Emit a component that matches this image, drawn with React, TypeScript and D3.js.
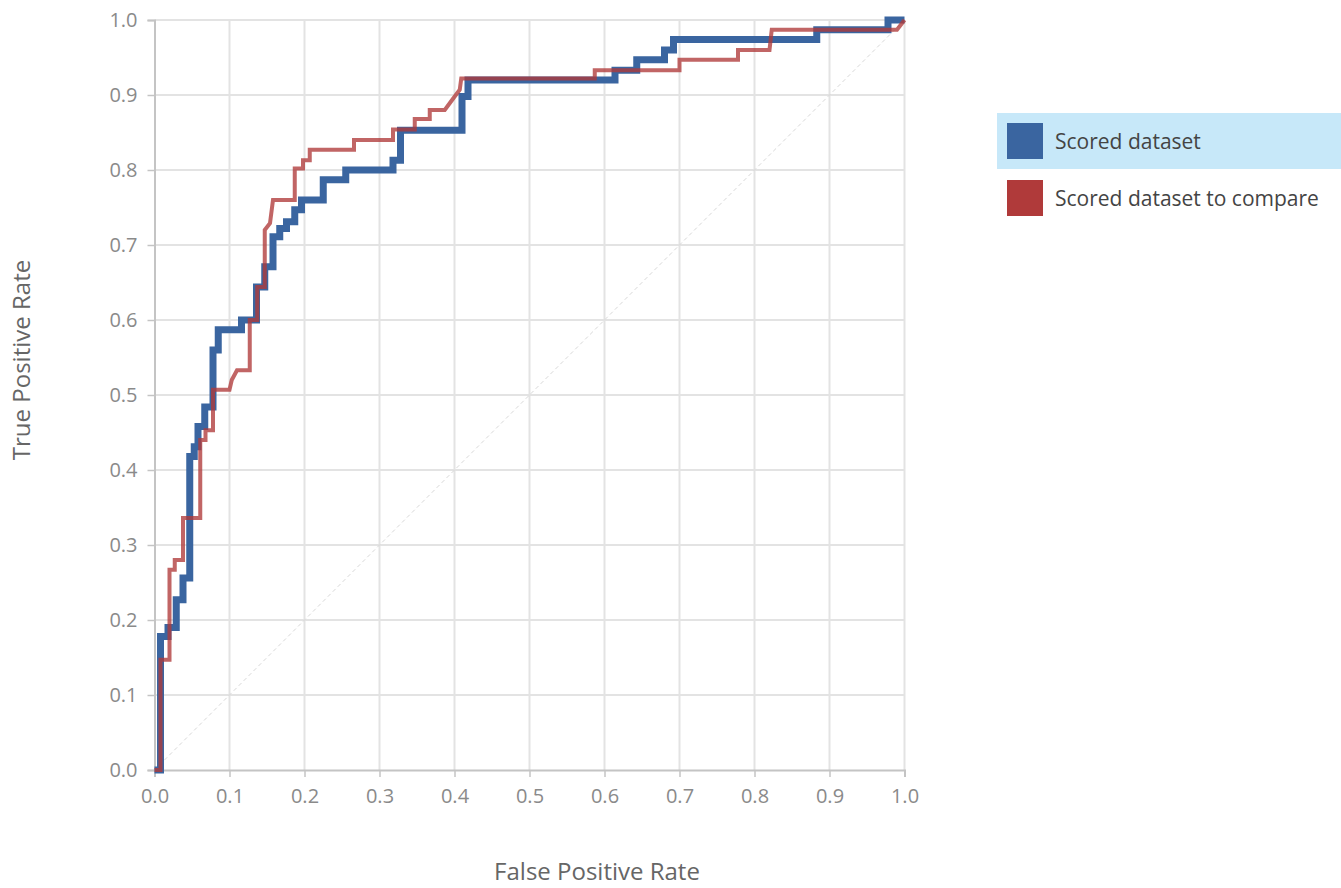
import * as d3 from "d3";
import { useEffect, useRef } from "react";

// ROC curve points as [false positive rate, true positive rate]
const scoredFpr = [
  0, 0.008, 0.008, 0.018, 0.018, 0.029, 0.029, 0.038, 0.038, 0.047, 0.047, 0.053, 0.053,
  0.058, 0.058, 0.067, 0.067, 0.078, 0.078, 0.085, 0.085, 0.116, 0.116, 0.136, 0.136,
  0.147, 0.147, 0.158, 0.158, 0.167, 0.167, 0.176, 0.176, 0.187, 0.187, 0.196, 0.196,
  0.225, 0.225, 0.255, 0.255, 0.318, 0.318, 0.328, 0.328, 0.41, 0.41, 0.418, 0.418,
  0.614, 0.614, 0.643, 0.643, 0.68, 0.68, 0.692, 0.692, 0.883, 0.883, 0.978, 0.978, 1,
];
const scoredTpr = [
  0, 0, 0.178, 0.178, 0.19, 0.19, 0.227, 0.227, 0.256, 0.256, 0.418, 0.418, 0.431,
  0.431, 0.458, 0.458, 0.484, 0.484, 0.56, 0.56, 0.587, 0.587, 0.6, 0.6, 0.644,
  0.644, 0.671, 0.671, 0.711, 0.711, 0.722, 0.722, 0.731, 0.731, 0.747, 0.747, 0.76,
  0.76, 0.787, 0.787, 0.8, 0.8, 0.813, 0.813, 0.853, 0.853, 0.898, 0.898, 0.92,
  0.92, 0.933, 0.933, 0.947, 0.947, 0.96, 0.96, 0.974, 0.974, 0.987, 0.987, 1, 1,
];

const compareFpr = [
  0, 0.008, 0.008, 0.02, 0.02, 0.027, 0.027, 0.038, 0.038, 0.061, 0.061, 0.068, 0.068,
  0.078, 0.078, 0.1, 0.103, 0.11, 0.127, 0.127, 0.137, 0.137, 0.147, 0.147, 0.154,
  0.158, 0.187, 0.187, 0.198, 0.198, 0.207, 0.207, 0.266, 0.266, 0.318, 0.318, 0.347,
  0.347, 0.367, 0.367, 0.387, 0.398, 0.407, 0.409, 0.587, 0.587, 0.7, 0.7, 0.778, 0.778,
  0.82, 0.823, 0.99, 1,
];
const compareTpr = [
  0, 0, 0.147, 0.147, 0.267, 0.267, 0.28, 0.28, 0.336, 0.336, 0.44, 0.44, 0.453,
  0.453, 0.507, 0.507, 0.52, 0.533, 0.533, 0.6, 0.6, 0.644, 0.644, 0.72, 0.729,
  0.76, 0.76, 0.802, 0.802, 0.813, 0.813, 0.827, 0.827, 0.84, 0.84, 0.854, 0.854,
  0.868, 0.868, 0.88, 0.88, 0.895, 0.907, 0.922, 0.922, 0.933, 0.933, 0.947, 0.947, 0.96,
  0.96, 0.987, 0.987, 1,
];

const seriesNames = ["Scored dataset", "Scored dataset to compare"];
const seriesColors = ["#3a65a0", "#b03a3a"];
const tickValues = d3.range(0, 11).map((d) => d / 10);

const App = () => {
  const width = 1341,
    height = 888,
    marginLeft = 154.5,
    marginTop = 20,
    plotW = 750,
    plotH = 750;

  const gx = useRef(null);
  const gy = useRef(null);

  const x = d3.scaleLinear([0, 1], [marginLeft, marginLeft + plotW]);
  const y = d3.scaleLinear([0, 1], [marginTop + plotH, marginTop]);
  const line = d3
    .line()
    .x((d) => x(d[0]))
    .y((d) => y(d[1]));

  const scored = scoredFpr.map((f, i) => [f, scoredTpr[i]]);
  const compare = compareFpr.map((f, i) => [f, compareTpr[i]]);

  const styleAxis = (g) => {
    g.select(".domain").attr("stroke", "#c4c4c4").attr("stroke-width", 2);
    g.selectAll(".tick line").attr("stroke", "#c4c4c4").attr("stroke-width", 1.5);
    g.selectAll(".tick text")
      .attr("fill", "#8a8a8a")
      .attr("font-size", 20)
      .attr("font-family", "'Open Sans', sans-serif");
  };

  useEffect(() => {
    const g = d3.select(gx.current);
    g.call(
      d3.axisBottom(x).tickValues(tickValues).tickFormat(d3.format(".1f")).tickSizeOuter(0).tickSize(7).tickPadding(12)
    );
    styleAxis(g);
  }, [gx, x]);

  useEffect(() => {
    const g = d3.select(gy.current);
    g.call(
      d3.axisLeft(y).tickValues(tickValues).tickFormat(d3.format(".1f")).tickSizeOuter(0).tickSize(7).tickPadding(10)
    );
    styleAxis(g);
  }, [gy, y]);

  return (
    <svg
      width={width}
      height={height}
      style={{ position: "absolute", left: 0, top: 0, background: "#fff" }}
      fontFamily="'Open Sans', sans-serif"
    >
      {/* grid */}
      <g stroke="#e3e3e3" strokeWidth="2">
        {tickValues.slice(1).map((t) => (
          <line key={"gx" + t} x1={x(t)} x2={x(t)} y1={y(0)} y2={y(1)} />
        ))}
        {tickValues.slice(1).map((t) => (
          <line key={"gy" + t} x1={x(0)} x2={x(1)} y1={y(t)} y2={y(t)} />
        ))}
      </g>
      <line
        x1={x(0)}
        y1={y(0)}
        x2={x(1)}
        y2={y(1)}
        stroke="#d8d8d8"
        strokeWidth="1"
        strokeDasharray="4,3"
      />
      <g ref={gx} transform={`translate(0, ${y(0)})`} />
      <g ref={gy} transform={`translate(${x(0)}, 0)`} />

      <path
        d={line(scored)}
        fill="none"
        stroke={seriesColors[0]}
        strokeWidth="7"
        strokeLinejoin="miter"
      />
      <path
        d={line(compare)}
        fill="none"
        stroke={seriesColors[1]}
        strokeOpacity="0.78"
        strokeWidth="4"
        strokeLinejoin="miter"
      />

      <text
        transform="translate(30, 360) rotate(-90)"
        textAnchor="middle"
        fill="#666"
        fontSize="24"
      >
        True Positive Rate
      </text>
      <text x={x(0.59)} y={880} textAnchor="middle" fill="#666" fontSize="24">
        False Positive Rate
      </text>

      {/* legend */}
      <rect x={997} y={113} width={344} height={56} fill="#c7e8f9" />
      {seriesNames.map((name, i) => (
        <g key={name} transform={`translate(1007, ${123 + i * 57})`}>
          <rect width={36} height={36} fill={seriesColors[i]} />
          <text x={48} y={26} fill="#444" fontSize="21">
            {name}
          </text>
        </g>
      ))}
    </svg>
  );
};

export default App;
